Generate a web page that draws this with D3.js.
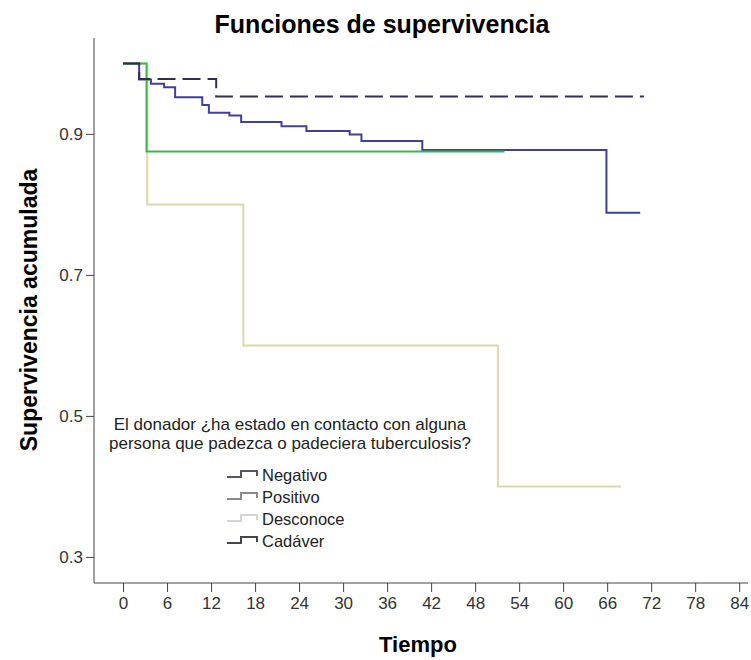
<!DOCTYPE html>
<html>
<head>
<meta charset="utf-8">
<script src="https://cdn.jsdelivr.net/npm/d3@7"></script>
<style>
  body { margin: 0; background: #fff; }
  svg { display: block; font-family: "Liberation Sans", Arial, sans-serif; }
</style>
</head>
<body>
<svg id="chart"></svg>
<script>
// Kaplan-Meier curves: time (months) and cumulative survival at each step
const negativoTime = [0, 2.2, 3.8, 5.6, 7.1, 10.8, 11.7, 14.5, 16.1, 21.6, 25.0, 30.9, 32.5, 40.8, 65.9, 70.5];
const negativoSurv = [1.0, 0.977, 0.971, 0.966, 0.952, 0.941, 0.930, 0.926, 0.917, 0.911, 0.904, 0.899, 0.890, 0.877, 0.788, 0.788];

const positivoTime = [0, 3.2, 52];
const positivoSurv = [1.0, 0.875, 0.875];

const desconoceTime = [0, 3.3, 16.4, 51.1, 67.9];
const desconoceSurv = [1.0, 0.8, 0.6, 0.4, 0.4];

const cadaverTime = [0, 2.2, 12.7, 71];
const cadaverSurv = [1.0, 0.978, 0.953, 0.953];

const groups = ["Negativo", "Positivo", "Desconoce", "Cadáver"];
const xTicks = d3.range(0, 85, 6);
const yTicks = [0.3, 0.5, 0.7, 0.9];

const width = 751;
const height = 660;

const svg = d3.select("#chart").attr("width", width).attr("height", height);

const x = d3.scaleLinear().domain([-3.96, 85.2]).range([94, 748]);
const y = d3.scaleLinear().domain([0.263, 1.036]).range([583, 38]);

// axes
const xAxis = svg.append("g")
  .attr("transform", "translate(0,583)")
  .call(d3.axisBottom(x).tickValues(xTicks).tickSize(9).tickPadding(5).tickSizeOuter(0));
xAxis.select(".domain").attr("stroke", "#444").attr("d", "M94,0H748");
xAxis.selectAll(".tick line").attr("stroke", "#444");
xAxis.selectAll(".tick text")
  .attr("fill", "#333")
  .style("font-family", "'Liberation Sans Narrow', 'Liberation Sans', Arial, sans-serif")
  .style("font-size", "17px");

const yAxis = svg.append("g")
  .attr("transform", "translate(94,0)")
  .call(d3.axisLeft(y).tickValues(yTicks).tickFormat(d3.format(".1f")).tickSize(8).tickPadding(3).tickSizeOuter(0));
yAxis.select(".domain").attr("stroke", "#444").attr("d", "M0,38V583");
yAxis.selectAll(".tick line").attr("stroke", "#444");
yAxis.selectAll(".tick text")
  .attr("fill", "#333")
  .style("font-family", "'Liberation Sans Narrow', 'Liberation Sans', Arial, sans-serif")
  .style("font-size", "17px");

// curves
const line = d3.line()
  .x((d) => x(d[0]))
  .y((d) => y(d[1]))
  .curve(d3.curveStepAfter);

const series = [
  { name: "Desconoce", time: desconoceTime, surv: desconoceSurv, color: "#d9d9ad", dash: null },
  { name: "Negativo", time: negativoTime, surv: negativoSurv, color: "#40409a", dash: null },
  { name: "Positivo", time: positivoTime, surv: positivoSurv, color: "#3cb54a", dash: null },
  { name: "Cadáver", time: cadaverTime, surv: cadaverSurv, color: "#352c55", dash: "18,7" },
];

svg.append("g")
  .selectAll("path")
  .data(series)
  .join("path")
  .attr("d", (s) => line(d3.zip(s.time, s.surv)))
  .attr("fill", "none")
  .attr("stroke", (s) => s.color)
  .attr("stroke-width", 2)
  .attr("stroke-dasharray", (s) => s.dash);

// titles
svg.append("text")
  .attr("x", 382).attr("y", 33)
  .attr("text-anchor", "middle")
  .style("font-size", "25px").style("font-weight", "bold")
  .text("Funciones de supervivencia");

svg.append("text")
  .attr("x", 418).attr("y", 652)
  .attr("text-anchor", "middle")
  .style("font-size", "22px").style("font-weight", "bold")
  .text("Tiempo");

svg.append("text")
  .attr("transform", "translate(37,310) rotate(-90)")
  .attr("text-anchor", "middle")
  .style("font-size", "23px").style("font-weight", "bold")
  .text("Supervivencia acumulada");

// legend
const legend = svg.append("g");
legend.selectAll("text.head")
  .data(["El donador ¿ha estado en contacto con alguna", "persona que padezca o padeciera tuberculosis?"])
  .join("text")
  .attr("class", "head")
  .attr("x", 290)
  .attr("y", (d, i) => 430 + i * 19)
  .attr("text-anchor", "middle")
  .attr("fill", "#222")
  .style("font-size", "17px")
  .text((d) => d);

const legendColors = ["#555566", "#8a8a8a", "#d4d4d4", "#444455"];
const row = legend.selectAll("g.item")
  .data(groups)
  .join("g")
  .attr("class", "item")
  .attr("transform", (d, i) => `translate(0,${481 + i * 22})`);

row.append("path")
  .attr("d", "M227,-4H241V-10H257V-5")
  .attr("fill", "none")
  .attr("stroke", (d, i) => legendColors[i])
  .attr("stroke-width", 2);

row.append("text")
  .attr("x", 262)
  .attr("fill", "#222")
  .style("font-size", "16.5px")
  .text((d) => d);
</script>
</body>
</html>
